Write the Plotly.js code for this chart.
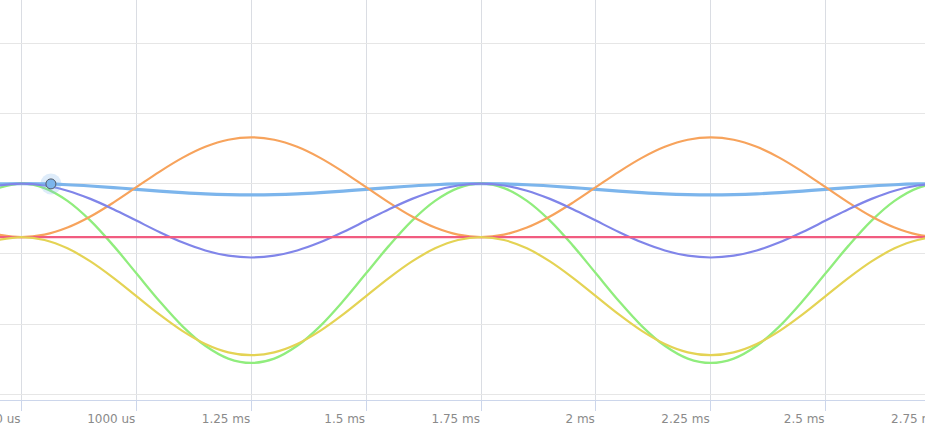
<!DOCTYPE html>
<html>
<head>
<meta charset="utf-8">
<script src="https://cdn.plot.ly/plotly-3.0.1.min.js"></script>
<style>
html, body { margin: 0; padding: 0; overflow: hidden; background: #fff; }
#chart { width: 960px; height: 441px; }
</style>
</head>
<body>
<div id="chart"></div>
<script>
// time axis in ms
const timeMs = [0.70, 0.75, 0.80, 0.85, 0.90, 0.95, 1.00, 1.05, 1.10, 1.15, 1.20, 1.25, 1.30, 1.35, 1.40, 1.45, 1.50, 1.55, 1.60, 1.65, 1.70,
  1.75, 1.80, 1.85, 1.90, 1.95, 2.00, 2.05, 2.10, 2.15, 2.20, 2.25, 2.30, 2.35, 2.40, 2.45, 2.50, 2.55, 2.60, 2.65, 2.70, 2.75, 2.80];

const blueSeries = [0.996, 1.00, 0.996, 0.985, 0.967, 0.945, 0.92, 0.895, 0.873, 0.855, 0.844, 0.84, 0.844, 0.855, 0.873, 0.895, 0.92, 0.945, 0.967, 0.985, 0.996,
  1.00, 0.996, 0.985, 0.967, 0.945, 0.92, 0.895, 0.873, 0.855, 0.844, 0.84, 0.844, 0.855, 0.873, 0.895, 0.92, 0.945, 0.967, 0.985, 0.996, 1.00, 0.996];

const greenSeries = [0.938, 1.00, 0.938, 0.756, 0.475, 0.119, -0.275, -0.669, -1.025, -1.306, -1.488, -1.55, -1.488, -1.306, -1.025, -0.669, -0.275, 0.119, 0.475, 0.756, 0.938,
  1.00, 0.938, 0.756, 0.475, 0.119, -0.275, -0.669, -1.025, -1.306, -1.488, -1.55, -1.488, -1.306, -1.025, -0.669, -0.275, 0.119, 0.475, 0.756, 0.938, 1.00, 0.938];

const orangeSeries = [0.275, 0.24, 0.275, 0.376, 0.533, 0.731, 0.95, 1.169, 1.367, 1.524, 1.625, 1.66, 1.625, 1.524, 1.367, 1.169, 0.95, 0.731, 0.533, 0.376, 0.275,
  0.24, 0.275, 0.376, 0.533, 0.731, 0.95, 1.169, 1.367, 1.524, 1.625, 1.66, 1.625, 1.524, 1.367, 1.169, 0.95, 0.731, 0.533, 0.376, 0.275, 0.24, 0.275];

const purpleSeries = [0.974, 1.00, 0.974, 0.90, 0.784, 0.637, 0.475, 0.313, 0.166, 0.05, -0.024, -0.05, -0.024, 0.05, 0.166, 0.313, 0.475, 0.637, 0.784, 0.90, 0.974,
  1.00, 0.974, 0.90, 0.784, 0.637, 0.475, 0.313, 0.166, 0.05, -0.024, -0.05, -0.024, 0.05, 0.166, 0.313, 0.475, 0.637, 0.784, 0.90, 0.974, 1.00, 0.974];

const redSeries = [0.24, 0.24, 0.24, 0.24, 0.24, 0.24, 0.24, 0.24, 0.24, 0.24, 0.24, 0.24, 0.24, 0.24, 0.24, 0.24, 0.24, 0.24, 0.24, 0.24, 0.24,
  0.24, 0.24, 0.24, 0.24, 0.24, 0.24, 0.24, 0.24, 0.24, 0.24, 0.24, 0.24, 0.24, 0.24, 0.24, 0.24, 0.24, 0.24, 0.24, 0.24, 0.24, 0.24];

const yellowSeries = [0.199, 0.24, 0.199, 0.08, -0.106, -0.34, -0.60, -0.86, -1.094, -1.28, -1.399, -1.44, -1.399, -1.28, -1.094, -0.86, -0.60, -0.34, -0.106, 0.08, 0.199,
  0.24, 0.199, 0.08, -0.106, -0.34, -0.60, -0.86, -1.094, -1.28, -1.399, -1.44, -1.399, -1.28, -1.094, -0.86, -0.60, -0.34, -0.106, 0.08, 0.199, 0.24, 0.199];

// hovered point on the blue series
const hoverTime = [0.814];
const hoverValue = [0.997];

const tickValues = [0.75, 1.0, 1.25, 1.5, 1.75, 2.0, 2.25, 2.5, 2.75];
const tickLabels = ['750 us', '1000 us', '1.25 ms', '1.5 ms', '1.75 ms', '2 ms', '2.25 ms', '2.5 ms', '2.75 ms'];

function line(y, color, width) {
  return { x: timeMs, y: y, type: 'scatter', mode: 'lines',
    line: { color: color, width: width, shape: 'spline', smoothing: 1 }, hoverinfo: 'skip' };
}

const traces = [
  line(blueSeries, '#7cb5ec', 3.2),
  line(greenSeries, '#90ed7d', 2.3),
  line(orangeSeries, '#f7a35c', 2.2),
  line(purpleSeries, '#8085e9', 2.2),
  line(redSeries, '#f15c80', 2.4),
  line(yellowSeries, '#e4d354', 2.2),
  { x: hoverTime, y: hoverValue, type: 'scatter', mode: 'markers',
    marker: { size: 21, color: 'rgba(124,181,236,0.25)' }, hoverinfo: 'skip' },
  { x: hoverTime, y: hoverValue, type: 'scatter', mode: 'markers',
    marker: { size: 10, color: '#7cb5ec', line: { color: '#555a66', width: 1 } }, hoverinfo: 'skip' }
];

const layout = {
  width: 960, height: 441,
  margin: { l: 0, r: 0, t: 0, b: 41, pad: 0 },
  paper_bgcolor: '#ffffff', plot_bgcolor: '#ffffff',
  showlegend: false,
  xaxis: {
    range: [0.70321, 2.79244],
    tickmode: 'array', tickvals: tickValues, ticktext: tickLabels,
    ticks: 'outside', ticklen: 10, tickwidth: 1, tickcolor: '#ccd6eb',
    ticklabelposition: 'outside left', ticklabeloverflow: 'allow',
    ticklabelstandoff: 8,
    tickfont: { family: 'DejaVu Sans', size: 12, color: '#8a8a8a' },
    showgrid: true, gridcolor: '#dadde3', gridwidth: 1,
    showline: true, linecolor: '#ccd6eb', linewidth: 1,
    zeroline: false, fixedrange: true
  },
  yaxis: {
    range: [-2.077, 3.613],
    tickmode: 'linear', tick0: 0, dtick: 1,
    showticklabels: false, ticks: '',
    showgrid: true, gridcolor: '#e6e6e6', gridwidth: 1,
    zeroline: false, showline: false, fixedrange: true
  }
};

Plotly.newPlot('chart', traces, layout, { displayModeBar: false, staticPlot: true });
</script>
</body>
</html>
